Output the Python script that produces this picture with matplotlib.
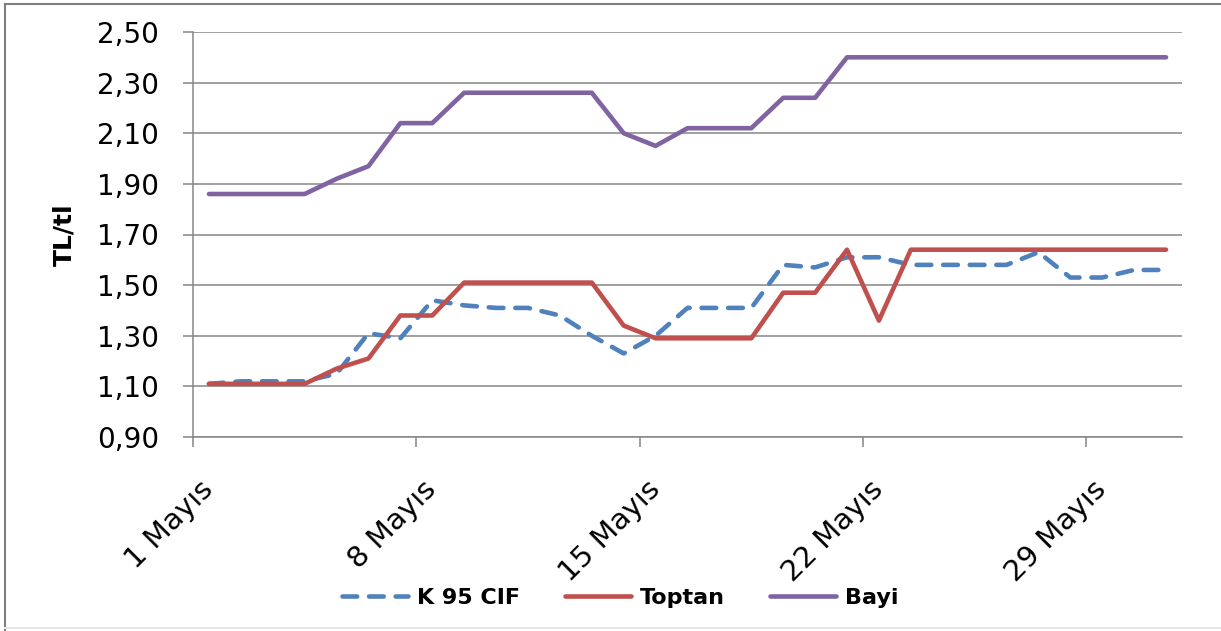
import matplotlib
matplotlib.use("Agg")
import matplotlib.pyplot as plt
from matplotlib.lines import Line2D

# daily prices, May (TL/lt)
days = list(range(1, 32))
k95_cif = [1.11, 1.12, 1.12, 1.12, 1.15, 1.31, 1.29, 1.44, 1.42, 1.41,
           1.41, 1.38, 1.30, 1.23, 1.30, 1.41, 1.41, 1.41, 1.58, 1.57,
           1.61, 1.61, 1.58, 1.58, 1.58, 1.58, 1.63, 1.53, 1.53, 1.56, 1.56]
toptan = [1.11, 1.11, 1.11, 1.11, 1.17, 1.21, 1.38, 1.38, 1.51, 1.51,
          1.51, 1.51, 1.51, 1.34, 1.29, 1.29, 1.29, 1.29, 1.47, 1.47,
          1.64, 1.36, 1.64, 1.64, 1.64, 1.64, 1.64, 1.64, 1.64, 1.64, 1.64]
bayi = [1.86, 1.86, 1.86, 1.86, 1.92, 1.97, 2.14, 2.14, 2.26, 2.26,
        2.26, 2.26, 2.26, 2.10, 2.05, 2.12, 2.12, 2.12, 2.24, 2.24,
        2.40, 2.40, 2.40, 2.40, 2.40, 2.40, 2.40, 2.40, 2.40, 2.40, 2.40]

tick_days = [1, 8, 15, 22, 29]
tick_labels = [f"{d} Mayıs" for d in tick_days]
y_ticks = [0.90, 1.10, 1.30, 1.50, 1.70, 1.90, 2.10, 2.30, 2.50]

W, H = 1221, 631
fig = plt.figure(figsize=(W / 100, H / 100), dpi=100)
ax = fig.add_axes([193 / W, 1 - 437 / H, (1182 - 193) / W, (437 - 32) / H])

grid_color = "#868686"
lw = 3.3

ax.plot(days, k95_cif, color="#4F81BD", lw=lw, dashes=(3.2, 2.6),
        dash_capstyle="round", label="K 95 CIF")
ax.plot(days, toptan, color="#C0504D", lw=lw, solid_capstyle="round",
        label="Toptan")
ax.plot(days, bayi, color="#8064A2", lw=lw, solid_capstyle="round",
        label="Bayi")

ax.set_xlim(0.5, 31.5)
ax.set_ylim(0.9, 2.5)

ax.set_yticks(y_ticks, [f"{v:.2f}".replace(".", ",") for v in y_ticks])
ax.set_xticks(tick_days, tick_labels, rotation=45, ha="right",
              va="center", rotation_mode="anchor")
ax.set_xticks([0.5, 7.5, 14.5, 21.5, 28.5], minor=True)

ax.tick_params(axis="x", which="major", length=0, pad=35, labelsize=21)
ax.tick_params(axis="x", which="minor", length=7.5, width=1.1,
               color=grid_color)
ax.tick_params(axis="y", length=7.5, width=1.1, color=grid_color,
               pad=17, labelsize=20)

ax.yaxis.grid(True, color=grid_color, lw=1.1)
ax.set_axisbelow(True)
for s in ["top", "right"]:
    ax.spines[s].set_visible(False)
for s in ["left", "bottom"]:
    ax.spines[s].set_color(grid_color)
    ax.spines[s].set_linewidth(1.1)

ax.set_ylabel("TL/tl", fontsize=18, fontweight="bold")
ax.yaxis.set_label_coords(-0.118, 0.5)

fig.legend(loc="center", bbox_to_anchor=(0.508, 0.052), ncol=3,
           frameon=False, prop={"weight": "bold", "size": 16},
           handlelength=3.0, handletextpad=0.4, columnspacing=2.0)

# outer chart frame
fig.add_artist(Line2D([5 / W, 5 / W], [0, 1 - 4 / H], transform=fig.transFigure,
                      color="#7f7f7f", lw=1.5))
fig.add_artist(Line2D([5 / W, 1], [1 - 4 / H, 1 - 4 / H], transform=fig.transFigure,
                      color="#7f7f7f", lw=1.5))
fig.add_artist(Line2D([5 / W, 1], [3 / H, 3 / H], transform=fig.transFigure,
                      color="#e6e6e6", lw=1.5))

fig.savefig("out.png", dpi=100)
